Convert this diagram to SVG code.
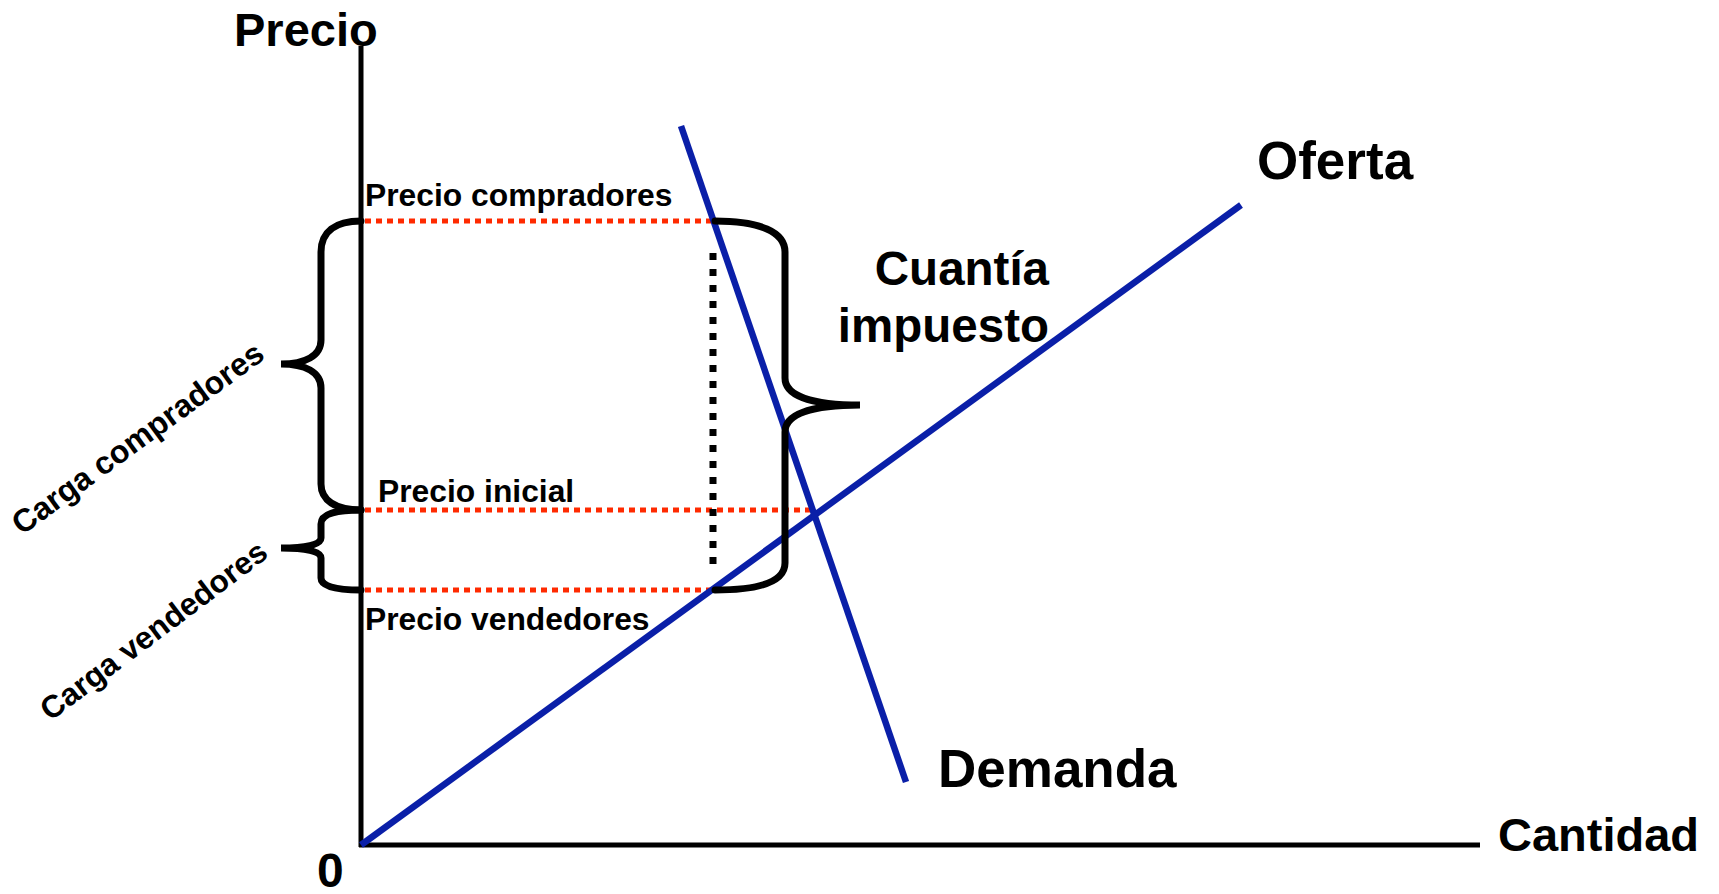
<svg xmlns="http://www.w3.org/2000/svg" width="1719" height="894" viewBox="0 0 1719 894">
<style>
.t{font-family:"Liberation Sans",Arial,sans-serif;font-weight:bold;fill:#000}
.axis{stroke:#000;stroke-width:5;fill:none}
.curve{stroke:#0a1fa8;stroke-width:6.5;fill:none}
.red{stroke:#ff2a00;stroke-width:5;stroke-dasharray:6 5;fill:none}
.blk{stroke:#000;stroke-width:7;stroke-dasharray:7 9;fill:none}
.brace{stroke:#000;stroke-width:7;fill:none;stroke-linecap:round}
</style>
<rect width="1719" height="894" fill="#fff"/>
<g id="axes">
<line class="axis" x1="361" y1="46" x2="361" y2="847"/>
<line class="axis" x1="359" y1="845" x2="1480" y2="845"/>
<text class="t" x="234" y="46" font-size="47">Precio</text>
<text class="t" x="1498" y="851" font-size="47">Cantidad</text>
<text class="t" x="317" y="887" font-size="48">0</text>
</g>
<g id="connectors">
<line class="red" x1="365" y1="221" x2="714" y2="221"/>
<line class="red" x1="365" y1="510" x2="811" y2="510"/>
<line class="red" x1="365" y1="590" x2="714" y2="590"/>
<line class="blk" x1="713" y1="253" x2="713" y2="566"/>
</g>
<g id="oferta">
<line class="curve" x1="361" y1="845" x2="1241" y2="205"/>
<text class="t" x="1257" y="179" font-size="53">Oferta</text>
</g>
<g id="demanda">
<line class="curve" x1="681" y1="126" x2="906" y2="782"/>
<text class="t" x="938" y="787" font-size="53">Demanda</text>
</g>
<g id="precio-compradores">
<text class="t" x="365" y="206" font-size="31.8">Precio compradores</text>
</g>
<g id="precio-inicial">
<text class="t" x="378" y="502" font-size="31.8">Precio inicial</text>
</g>
<g id="precio-vendedores">
<text class="t" x="365" y="630" font-size="31.8">Precio vendedores</text>
</g>
<g id="cuantia-impuesto">
<path class="brace" d="M715,221 C760,221 785,232 785,252 L785,378 C785,396 812,405 860,405 C812,405 785,414 785,432 L785,563 C785,582 760,590 715,590"/>
<text class="t" font-size="47.5" text-anchor="end"><tspan x="1049" y="285">Cuantía</tspan><tspan x="1049" y="342">impuesto</tspan></text>
</g>
<g id="carga-compradores">
<path class="brace" d="M361,221 C335,221 321,232 321,252 L321,340 C321,356 305,364 281,364 C305,364 321,372 321,388 L321,484 C321,500 335,510 361,510"/>
<text class="t" font-size="32" text-anchor="middle" transform="translate(144,447) rotate(-36)">Carga compradores</text>
</g>
<g id="carga-vendedores">
<path class="brace" d="M361,510 C335,510 321,514 321,524 L321,538 C321,545 305,548 281,548 C305,548 321,551 321,558 L321,578 C321,586 335,590 361,590"/>
<text class="t" font-size="31.5" text-anchor="middle" transform="translate(160,639) rotate(-37)">Carga vendedores</text>
</g>
</svg>
